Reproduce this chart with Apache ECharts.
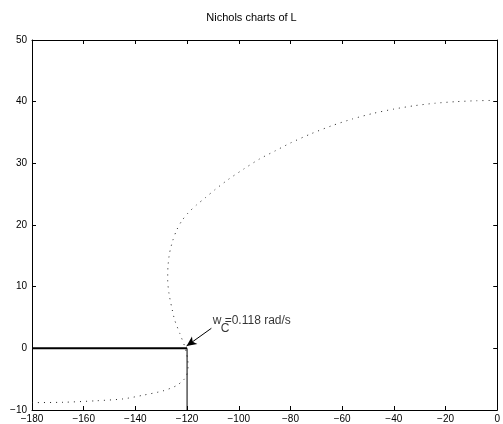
<!DOCTYPE html>
<html>
<head>
<meta charset="utf-8">
<script src="https://cdn.jsdelivr.net/npm/echarts@6/dist/echarts.min.js"></script>
<style>
  html, body { margin: 0; padding: 0; background: #fff; }
  #app { width: 503px; height: 424px; }
</style>
</head>
<body>
<div id="app"></div>
<script>
// Nichols curve of L: [phase (deg), gain (dB)]
const nicholsCurve = [
  [-180, -8.8], [-168, -8.75], [-155, -8.5], [-144.7, -8.2], [-137, -7.6],
  [-129.3, -6.9], [-124.1, -6.05], [-121.3, -5.1], [-120.2, -4.4], [-119.6, -3.0],
  [-119.7, -2.0], [-120.2, -0.8], [-120.9, 0.3], [-122.8, 2.4], [-124.8, 4.6],
  [-126, 6.75], [-127, 8.9], [-127.5, 11.1], [-127.4, 13.2], [-126.8, 15.4],
  [-125.6, 17.4], [-124, 19.2], [-122, 20.7], [-119.5, 22.0], [-116.5, 23.2],
  [-113, 24.4], [-109, 25.8], [-104, 27.4], [-98, 29.1], [-92, 30.7], [-86, 32.0],
  [-80, 33.3], [-72, 34.8], [-64, 36.1], [-56, 37.2], [-48, 38.1], [-40, 38.8],
  [-32, 39.35], [-24, 39.75], [-16, 40.0], [-8, 40.15], [-1.8, 40.2]
];
// crossover marker lines
const gainLine = [[-180, 0], [-120, 0]];
const phaseLine = [[-120, 0], [-120, -10]];
// annotation arrow (tail -> tip) and text anchors
const arrowTail = [-110.6, 3.25];
const arrowTip = [-120.2, 0.37];
const labelMain = [-110.1, 4.5];
const labelSub = [-107.0, 3.2];

const xTicks = { min: -180, max: 0, interval: 20 };
const yTicks = { min: -10, max: 50, interval: 10 };

const font = 'Liberation Sans';
const fmt = v => String(v).replace('-', '\u2212');

const axisCommon = {
  axisLine: { show: true, onZero: false, lineStyle: { color: '#000', width: 1 } },
  axisTick: { show: true, inside: true, length: 4, lineStyle: { color: '#000' } },
  splitLine: { show: false }
};

const chart = echarts.init(document.getElementById('app'), null, { renderer: 'canvas' });
chart.setOption({
  animation: false,
  backgroundColor: '#fff',
  title: {
    text: 'Nichols charts of L',
    left: 'center',
    top: 7,
    textStyle: { fontFamily: font, fontSize: 11, fontWeight: 'normal', color: '#000' }
  },
  grid: { left: 32, right: 5, top: 40, bottom: 14, show: false },
  xAxis: [
    Object.assign({
      type: 'value', position: 'bottom',
      min: xTicks.min, max: xTicks.max, interval: xTicks.interval,
      axisLabel: { fontFamily: font, fontSize: 10, color: '#000', margin: 4, formatter: fmt }
    }, axisCommon),
    Object.assign({
      type: 'value', position: 'top',
      min: xTicks.min, max: xTicks.max, interval: xTicks.interval,
      axisLabel: { show: false }
    }, axisCommon)
  ],
  yAxis: [
    Object.assign({
      type: 'value', position: 'left',
      min: yTicks.min, max: yTicks.max, interval: yTicks.interval,
      axisLabel: { fontFamily: font, fontSize: 10, color: '#000', margin: 5, formatter: fmt }
    }, axisCommon),
    Object.assign({
      type: 'value', position: 'right',
      min: yTicks.min, max: yTicks.max, interval: yTicks.interval,
      axisLabel: { show: false }
    }, axisCommon)
  ],
  series: [
    {
      type: 'line',
      data: nicholsCurve,
      showSymbol: false,
      smooth: 0.25,
      lineStyle: { color: '#222', width: 1, type: [1, 5] }
    },
    {
      type: 'line',
      data: gainLine,
      showSymbol: false,
      lineStyle: { color: '#000', width: 2 }
    },
    {
      type: 'line',
      data: phaseLine,
      showSymbol: false,
      lineStyle: { color: '#000', width: 1 },
      markLine: {
        silent: true,
        symbol: ['none', 'arrow'],
        symbolSize: [7, 10],
        label: { show: false },
        lineStyle: { color: '#000', width: 1, type: 'solid' },
        data: [[{ coord: arrowTail }, { coord: arrowTip }]]
      }
    },
    {
      type: 'scatter',
      symbolSize: 0,
      silent: true,
      data: [
        { value: labelMain, label: { formatter: 'w =0.118 rad/s' } },
        { value: labelSub, label: { formatter: 'C' } }
      ],
      label: {
        show: true,
        position: 'inside',
        align: 'left',
        verticalAlign: 'middle',
        fontFamily: font,
        fontSize: 12,
        color: '#000'
      }
    }
  ]
});
</script>
</body>
</html>
